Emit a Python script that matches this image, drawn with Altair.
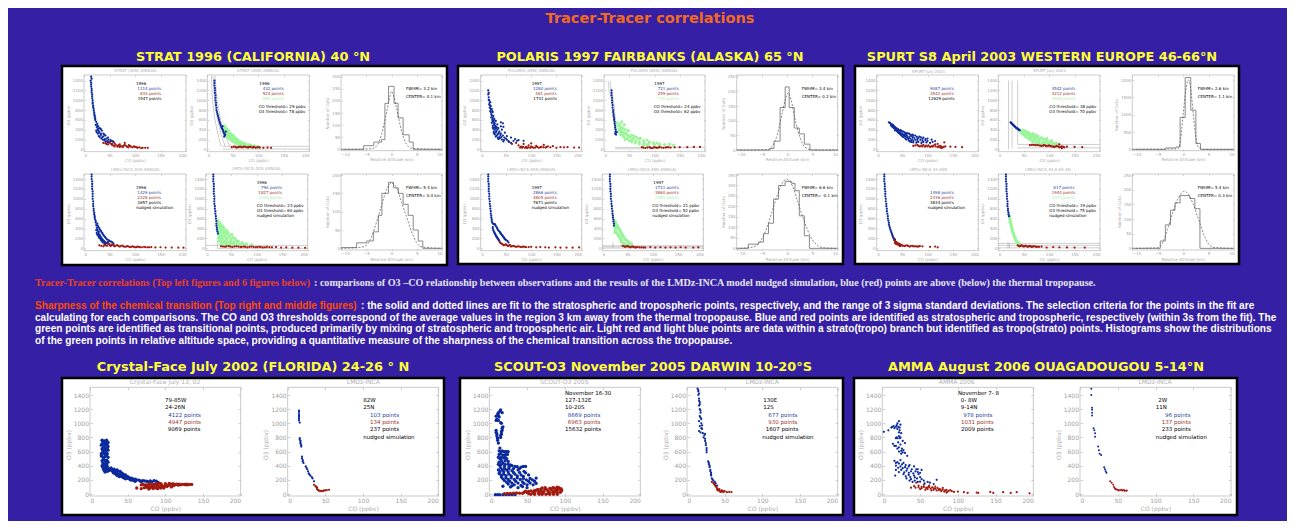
import altair as alt

W, H = 1279, 513
BG = "#3520A5"
BLUE, RED, GREEN = "#0B2A9C", "#A3190F", "#98F598"
TBLUE, TRED, TGREEN = "#2B3F9E", "#A2302A", "#A8EFA8"
GREY = "#B4B4B4"

# ---------- scatter values (CO ppbv, O3 ppbv) ----------
G1A_B = [(14,1480),(13,1400),(14,1320),(15,1240),(15,1160),(16,1080),(17,1000),(17,930),(18,860),(19,790),(20,720),(21,660),(22,600),(24,560),(23,500),(26,520),(25,450),(28,470),(27,400),(31,430),(24,380),(30,340),(35,380),(27,320),(33,290),(38,320),(29,270),(36,250),(42,280),(34,220),(41,210),(47,240),(40,180),(46,170),(52,190),(50,150),(56,165),
         (15,1440),(14,1360),(14,1280),(15,1200),(16,1120),(16,1040),(17,960),(18,890),(19,825),(20,755),(21,690),(22,630),(26,480),(28,420),(33,410),(29,370),(25,350),(33,320),(40,300),(31,250),(38,265),(44,220),(37,200),(48,200),(43,160),(53,170),(58,150),(47,140)]
G1A_R = [(38,130),(44,110),(50,140),(55,90),(60,120),(65,70),(70,100),(75,60),(80,90),(85,50),(90,70),(95,40),(100,50),(105,30),(112,25),(120,30),(60,60),(70,50),(80,130),
         (42,125),(47,100),(52,115),(58,75),(62,95),(68,85),(72,65),(78,75),(83,65),(88,85),(92,55),(98,60),(103,45),(108,40),(115,30),(125,30),(55,110),(66,55),(76,45),(87,40)]
G1B_B = [(14,1400),(14,1300),(15,1200),(16,1100),(16,1000),(17,900),(18,800),(20,720),(22,640),(24,560),(26,500),(28,440),(30,400),(32,340),(35,300),(33,260),(36,360),(30,470),
         (14,1350),(15,1250),(15,1150),(16,1050),(17,950),(18,850),(19,760),(21,680),(23,600),(25,530),(27,470),(29,420),(31,370),(33,320),(34,280)]
G1B_G = [(33,480),(36,430),(32,400),(40,390),(38,340),(44,330),(36,300),(42,290),(50,280),(40,250),(48,240),(56,220),(45,200),(53,190),(62,170),(50,160),(60,140),(70,130),(58,110),(68,100),(80,95),(75,75),(90,70),(100,55),
         (35,460),(38,410),(36,370),(42,360),(40,320),(47,310),(39,275),(45,265),(53,260),(43,225),(51,215),(59,200),(48,180),(57,165),(66,150),(55,130),(64,120),(74,115),(63,95),(72,85),(85,85),(82,70),(95,60)]
G1B_R = [(48,45),(55,50),(60,40),(65,55),(70,45),(75,50),(80,35),(85,50),(90,40),(95,30),(100,45),(110,30),(118,35),(125,30),
         (52,55),(57,35),(62,50),(67,40),(72,55),(78,40),(82,50),(88,35),(92,50),(98,40),(103,35)]
G1D_B = [(15,1490),(15,1400),(16,1300),(16,1200),(17,1100),(17,1000),(18,900),(19,800),(20,720),(21,650),(22,580),(23,520),(24,470),(26,500),(25,420),(28,430),(24,370),(27,350),(31,380),(25,310),(29,290),(34,330),(27,260),(32,240),(37,280),(30,210),(35,190),(41,230),(33,170),(39,150),(45,180),(37,120),(44,110),(50,150),(42,90),(50,80),(56,120),(58,90),
         (15,1450),(16,1350),(16,1250),(17,1150),(17,1050),(18,950),(18,850),(19,760),(20,685),(21,615),(23,550),(27,460),(26,385),(30,410),(29,330),(33,360),(26,285),(31,265),(36,305),(29,235),(34,215),(39,255),(32,195),(37,170),(43,205),(35,145),(41,130),(48,165),(47,125),(40,105),(53,135),(47,95)]
G1D_R = [(30,60),(38,40),(42,60),(48,100),(52,45),(55,75),(60,40),(65,65),(70,35),(75,55),(80,30),(85,45),(90,25),(95,40),(100,20),(105,35),(110,20),(118,30),(125,20),(132,25),(140,18),(150,22),(160,15),(172,15),(185,12),(195,12),
         (34,50),(40,70),(45,50),(50,65),(54,60),(58,55),(62,50),(67,50),(72,45),(77,40),(83,35),(88,35),(93,30),(98,30),(103,25),(108,28),(114,22),(121,22),(128,22)]
G1E_B = [(15,1490),(15,1400),(16,1300),(16,1200),(16,1100),(17,1000),(17,900),(18,800),(19,700),(20,600),(21,500),(22,420),(23,340),(24,300),
         (15,1450),(15,1350),(16,1250),(16,1150),(17,1050),(17,950),(18,850),(19,750),(20,650),(21,550),(21,460),(22,380)]
G1E_G = [(22,570),(24,550),(25,480),(30,480),(24,420),(30,410),(36,400),(25,350),(32,340),(38,330),(44,320),(25,280),(32,270),(40,270),(47,250),(25,210),(33,200),(42,200),(50,190),(58,190),(26,150),(35,130),(45,130),(55,130),(64,140),(30,90),(42,85),(55,85),(68,90),(80,90),
         (27,515),(28,445),(34,440),(28,380),(34,370),(41,365),(28,310),(36,305),(43,295),(51,285),(29,240),(37,235),(46,230),(54,220),(30,175),(39,165),(49,160),(60,160),(31,120),(40,110),(50,105),(61,110),(72,115),(36,70),(48,65),(62,70),(75,75),(90,75)]
G1E_R = [(30,40),(38,30),(45,45),(52,25),(60,40),(68,25),(75,35),(82,20),(90,35),(98,22),(105,30),(112,18),(120,28),(130,20),(138,25),(148,15),(158,18),(170,12),(182,12),(195,10),
         (34,35),(41,40),(48,35),(56,35),(64,35),(71,30),(78,28),(86,28),(94,28),(101,25),(108,25),(116,22),(125,24)]

G2A_B = [(15,1200),(15,1120),(16,1060),(17,1000),(17,920),(19,960),(18,850),(20,880),(19,780),(22,820),(21,720),(24,760),(21,650),(25,680),(23,600),(27,620),(22,540),(26,550),(30,580),(24,480),(28,490),(33,510),(40,550),(44,530),(40,470),(45,460),(42,400),(25,420),(30,430),(35,430),(26,360),(31,370),(37,360),(28,300),(34,310),(40,320),(48,340),(30,260),(37,250),(44,280),(52,270),(35,210),(42,200),(50,220),(60,240),(68,210),(45,160),(55,170),(65,170),(75,190),(85,175),(60,130),
         (16,1150),(16,1010),(18,960),(18,900),(20,820),(20,760),(23,780),(22,690),(24,640),(26,590),(24,570),(28,530),(26,510),(30,470),(27,450),(32,450),(24,440),(28,400),(33,400),(30,340),(36,335),(26,330),(32,280),(39,290),(34,235),(41,250),(47,240),(38,225),(46,190),(52,195),(56,150),(72,175)]
G2A_R = [(62,110),(70,130),(75,80),(80,55),(82,30),(85,110),(90,50),(92,25),(95,80),(100,120),(102,45),(105,30),(110,70),(115,30),(120,50),(125,90),(128,35),(133,60),(138,40),(143,65),(150,30),(158,45),(165,40),(172,45),(185,35),(195,35),
         (78,35),(84,50),(88,30),(94,40),(98,30),(100,55),(108,35),(112,50),(118,40),(124,40),(130,45)]
G2B_B = [(15,1200),(15,1100),(16,1000),(17,900),(18,800),(19,720),(20,640),(21,560),(22,480),(23,400),(25,350),(24,300),
         (15,1150),(16,1050),(16,950),(17,850),(18,760),(19,680),(20,600),(21,520),(22,440),(23,360),(22,320)]
G2B_G = [(26,540),(35,560),(28,480),(40,500),(30,420),(38,430),(28,360),(37,350),(48,380),(33,300),(45,310),(55,290),(40,250),(52,250),(65,240),(42,200),(55,190),(70,210),(85,190),(55,150),(70,150),(90,150),(105,130),(70,110),(88,105),(110,105),(130,105),(85,80),(110,75),(138,85),
         (31,510),(34,450),(33,390),(42,400),(34,340),(42,330),(38,280),(48,280),(60,265),(46,225),(58,220),(72,225),(50,180),(63,170),(78,175),(62,130),(80,130),(98,135),(78,95),(100,90),(120,95)]
G2B_R = [(75,45),(82,25),(90,45),(95,22),(100,40),(105,30),(110,45),(118,30),(125,45),(132,35),(140,40),(150,45),(165,45),(178,50),(190,50),
         (78,35),(86,35),(92,30),(98,35),(103,35),(108,35),(114,35),(122,35),(128,40)]
G2D_B = [(15,1490),(15,1400),(16,1300),(16,1200),(17,1100),(17,1000),(18,900),(19,800),(20,700),(21,620),(22,550),(24,500),(28,490),(30,450),(24,430),(33,400),(25,370),(36,350),(27,320),(39,310),(29,280),(41,280),(31,240),(44,240),(33,210),(47,200),(35,180),(50,170),(37,150),(53,150),(55,120),
         (15,1450),(15,1350),(16,1250),(16,1150),(17,1050),(18,950),(19,850),(20,750),(21,660),(22,585),(23,520),(26,490),(29,470),(32,425),(34,375),(38,330),(40,295),(43,260),(46,220),(48,185),(24,400),(26,345),(28,300),(30,260),(32,225),(34,195),(36,165)]
G2D_R = [(38,120),(42,90),(46,60),(50,80),(54,45),(58,70),(60,35),(65,50),(70,30),(75,40),(80,25),(85,35),(90,22),(100,30),(110,20),(118,25),(128,20),(135,15),(148,20),(158,12),(170,15),(182,12),(195,18),
         (40,105),(44,75),(48,70),(52,60),(56,55),(62,45),(67,40),(72,35),(78,32),(83,30),(88,28),(95,25)]
G2E_B = [(15,1490),(15,1400),(16,1300),(16,1200),(17,1100),(17,1000),(18,900),(19,800),(20,700),(21,620),(22,540),(23,460),
         (15,1450),(15,1350),(16,1250),(16,1150),(17,1050),(18,950),(19,850),(20,750),(21,660),(22,580),(23,500)]
G2E_G = [(24,560),(28,480),(25,500),(32,420),(24,440),(34,380),(25,380),(36,340),(25,320),(38,300),(40,260),(30,290),(42,230),(33,240),(44,190),(36,190),(48,160),(38,130),(52,120),(44,90),(58,90),(50,60),
         (26,530),(30,450),(27,470),(33,400),(26,410),(35,360),(27,350),(37,320),(28,310),(39,280),(41,245),(32,265),(43,210),(35,215),(46,175),(37,160),(50,140),(41,110),(55,105),(47,75),(54,70)]
G2E_R = [(40,50),(45,30),(50,45),(55,20),(60,35),(65,15),(70,25),(78,18),(85,15),(95,25),(105,15),(115,22),(125,15),(135,20),(145,15),(155,22),(165,15),(180,15),(190,20),
         (43,40),(48,38),(52,35),(57,30),(62,28),(67,22),(74,20),(82,18)]

G3A_B = [(24,550),(27,530),(30,510),(28,490),(33,480),(31,460),(36,450),(34,430),(39,430),(37,400),(42,410),(47,390),(40,370),(45,360),(52,360),(58,330),(44,330),(50,320),(56,310),(64,320),(70,300),(48,290),(54,280),(60,270),(68,270),(76,280),(84,260),(52,250),(60,240),(66,220),(74,230),(82,230),(92,240),(100,220),(58,200),(68,180),(76,195),(86,195),(96,190),(108,200),(65,160),(72,140),(82,150),(92,150),(105,130),(115,170),
         (26,540),(29,500),(32,500),(30,475),(35,465),(33,445),(38,415),(36,385),(41,390),(44,385),(49,375),(42,345),(47,340),(55,345),(61,325),(46,310),(52,300),(58,290),(66,295),(72,285),(50,270),(56,260),(64,250),(71,250),(79,255),(87,245),(56,225),(62,215),(70,205),(80,210),(90,215),(96,210),(63,185),(72,170),(80,170),(90,170),(100,170),(68,150),(78,135),(88,130),(98,140),(110,150)]
G3A_R = [(72,70),(80,90),(85,60),(92,90),(95,55),(102,80),(105,50),(112,75),(115,100),(120,45),(125,70),(130,40),(135,60),(128,25),(120,110),(133,140),(145,55),(155,50),(168,45),
         (76,80),(82,70),(88,75),(90,60),(97,75),(100,60),(108,65),(110,55),(116,60),(122,60),(127,55),(132,50),(125,35)]
G3B_B = [(24,550),(26,530),(28,510),(30,490),(32,470),(34,450),(36,430),(38,420),(40,400),(42,390),(25,540),(27,520),(29,500),(31,480),(33,460),(35,440),(37,425),(39,410),(41,395)]
G3B_G = [(42,380),(50,390),(45,350),(55,360),(48,320),(60,330),(68,320),(50,290),(58,290),(68,280),(78,270),(55,250),(65,240),(75,240),(85,240),(95,220),(62,200),(72,190),(82,200),(95,180),(105,180),(68,150),(80,150),(92,140),(105,140),(115,120),(80,110),(100,100),(118,100),
         (46,375),(52,345),(47,335),(58,345),(54,305),(64,310),(73,300),(53,270),(62,265),(72,260),(60,225),(70,220),(80,215),(90,210),(67,175),(77,165),(88,170),(100,160),(74,130),(86,125),(98,120),(110,120),(90,100),(108,95)]
G3B_R = [(62,85),(70,90),(78,85),(85,70),(90,85),(95,65),(100,80),(105,60),(110,50),(115,70),(120,40),(125,60),(130,40),(135,55),(125,20),(120,100),(150,50),(165,45),
         (66,90),(74,85),(82,75),(88,75),(93,75),(98,70),(103,65),(108,55),(113,60),(118,55),(123,50),(128,50)]
G3D_B = [(15,1490),(15,1400),(16,1300),(16,1200),(17,1100),(18,1000),(19,900),(20,800),(21,700),(22,600),(24,520),(25,450),(27,380),(29,320),(31,260),(33,210),(36,170),
         (15,1450),(15,1350),(16,1250),(17,1150),(17,1050),(18,950),(19,850),(20,750),(22,650),(23,560),(24,485),(26,415),(28,350),(30,290),(32,235),(35,190)]
G3D_R = [(34,170),(38,130),(36,110),(42,100),(40,80),(46,85),(45,50),(50,60),(55,45),(60,60),(65,35),(70,50),(75,40),(80,35),(85,45),(90,40),(105,30),(115,35),(120,20),
         (36,150),(40,115),(38,90),(44,90),(43,65),(48,70),(47,45),(52,50),(57,55),(62,45),(67,45),(72,40),(78,40),(83,38)]
G3E_B = [(15,1490),(15,1400),(16,1300),(16,1200),(17,1100),(17,1000),(18,900),(19,800),(20,720),(21,650),(15,1450),(15,1350),(16,1250),(16,1150),(17,1050),(18,950),(18,850),(19,760),(20,685)]
G3E_G = [(22,650),(23,580),(24,520),(25,460),(27,400),(28,340),(30,300),(31,250),(33,210),(34,170),(37,130),(40,100),(42,80),(22,615),(23,550),(25,490),(26,430),(27,370),(29,320),(30,275),(32,230),(34,190),(35,150),(38,115),(41,90)]
G3E_R = [(38,60),(42,40),(46,60),(50,35),(54,55),(58,30),(62,50),(66,28),(70,45),(75,30),(80,30),(85,35),(95,15),(108,25),(120,20),(135,18),(150,15),(170,15),
         (40,50),(44,50),(48,48),(52,45),(56,42),(60,40),(64,38),(68,36),(73,36),(78,32)]

G4A_B = [(16,760),(19,750),(22,760),(24,730),(16,710),(20,700),(23,690),(18,660),(22,650),(17,620),(21,610),(24,620),(15,570),(19,570),(23,570),(16,530),(20,530),(24,520),(18,490),(22,480),(17,440),(21,440),(24,450),(16,400),(20,400),(23,390),(18,350),(22,340),(20,310),(25,330),(28,370),(32,350),(36,340),(30,320),(35,310),(40,320),(33,290),(38,280),(43,290),(36,260),(42,250),(47,270),(45,230),(50,245),(50,220),(55,225),(60,210),(58,190),(65,195),(70,190),(75,180),(80,185),(85,190),(68,175),(82,170),
         (17,745),(21,735),(18,725),(22,715),(15,690),(19,680),(24,670),(16,640),(20,630),(23,640),(17,595),(21,590),(15,540),(22,550),(18,510),(16,470),(20,470),(23,465),(19,420),(22,420),(17,380),(21,370),(24,360),(19,330),(23,320),(26,355),(30,345),(34,330),(28,340),(32,320),(37,325),(31,300),(36,295),(41,305),(35,275),(40,265),(45,275),(39,245),(44,235),(48,250),(47,215),(52,230),(53,205),(57,215),(62,200),(60,180),(67,185),(72,185),(77,175),(55,195),(50,235),(42,270),(88,180),(90,165)]
G4A_R = [(62,85),(68,75),(72,90),(78,70),(70,135),(75,125),(80,145),(85,120),(85,95),(90,75),(88,140),(95,130),(92,100),(98,85),(100,115),(100,145),(105,130),(108,100),(112,125),(115,140),(120,130),(125,135),(130,130),(135,135),(78,105),(92,155),(105,150),
         (73,130),(78,135),(83,130),(87,128),(90,120),(94,145),(96,110),(90,100),(82,110),(80,85),(84,78),(88,85),(94,85),(97,100),(102,105),(104,120),(107,140),(110,115),(113,135),(117,125),(118,140),(122,135),(127,130),(128,140),(132,135),(75,95),(100,130),(95,115),(85,140),(110,145),(68,130)]
G4B_B = [(15,1180),(15,1130),(15,1090),(15,1040),(16,1010),(16,790),(17,750),(17,710),(18,670),(19,530),(20,480),(21,440),(24,390),(26,350),(28,290),(30,260),(33,220),(35,180),(15,1160),(15,1110),(15,1065),(16,770),(17,730),(18,690),(19,505),(20,460),(25,370),(27,320),(29,275),(32,240)]
G4B_R = [(35,130),(37,110),(39,90),(40,60),(42,45),(45,40),(48,50),(52,55),(55,60),(38,100),(39,70),(41,50),(44,45),(47,42),(50,50)]
G5A_B = [(9,1100),(11,1130),(14,1170),(15,1190),(10,1060),(13,1090),(15,1010),(16,1000),(9,870),(10,820),(11,760),(12,720),(18,950),(17,900),(16,850),(15,800),(13,610),(17,610),(21,600),(25,600),(13,560),(18,550),(24,560),(14,500),(19,510),(23,500),(25,460),(13,450),(18,440),(28,410),(14,400),(20,390),(26,380),(34,390),(42,380),(48,390),(12,340),(17,340),(23,340),(30,330),(38,340),(46,320),(13,290),(19,280),(26,280),(34,280),(42,270),(52,270),(16,240),(22,230),(29,230),(37,230),(45,220),(54,220),(62,225),(20,190),(27,180),(35,180),(44,170),(52,180),(60,180),(25,140),(33,130),(42,120),(50,130),(58,130),(18,110),(28,100),(38,90),(50,90),(8,-10),(14,-10),(22,-10),(30,-10),
         (15,600),(19,600),(23,600),(15,570),(21,555),(12,520),(16,520),(21,520),(16,470),(21,470),(12,420),(16,420),(21,420),(25,420),(30,400),(37,385),(45,390),(15,370),(20,360),(26,355),(32,360),(40,360),(14,315),(19,315),(25,310),(32,305),(40,305),(48,300),(16,265),(22,260),(29,255),(37,255),(45,250),(18,215),(25,205),(33,205),(41,205),(49,200),(57,200),(23,165),(30,155),(38,155),(46,150),(54,155),(62,150),(30,115),(44,105),(12,1150),(12,1110),(17,1150),(9,1040),(12,1040),(9,900),(10,850),(11,790),(17,930),(16,880),(15,830),(14,650),(11,-10),(18,-10),(26,-10),(34,-10)]
G5A_R = [(20,5),(28,10),(36,15),(44,10),(50,20),(55,-5),(60,10),(48,40),(55,45),(62,50),(66,30),(70,10),(72,45),(68,70),(76,60),(80,20),(80,80),(85,40),(88,70),(90,15),(92,90),(95,40),(95,75),(75,-5),(85,-5),(60,-5),(70,85),
         (24,8),(32,12),(40,12),(46,25),(52,35),(58,30),(60,50),(64,65),(65,20),(68,40),(72,25),(74,75),(78,40),(78,10),(82,60),(84,20),(86,85),(88,30),(90,50),(92,70),(94,25),(96,55),(66,-5),(70,-5),(80,-5),(90,-5),(52,5),(58,20),(74,90),(84,90),(90,95)]
G5B_B = [(14,1490),(15,1450),(15,1400),(16,1350),(17,1300),(16,1250),(17,1200),(18,1150),(17,1100),(19,1060),(16,1030),(19,1000),(17,960),(20,920),(16,890),(21,860),(22,800),(24,850),(24,780),(25,720),(26,650),(26,590),(28,460),(29,420),(30,380),(31,340),(32,300),(32,260),(33,220),(35,190),(38,150),(40,120),
         (15,1470),(16,1420),(16,1320),(17,1270),(18,1180),(18,1080),(20,970),(19,930),(18,870),(23,830),(24,750),(25,690),(26,620),(29,440),(30,400),(31,320),(32,280),(34,205),(37,170)]
G5B_R = [(33,170),(36,140),(38,110),(40,80),(41,50),(43,70),(44,35),(46,50),(48,30),(50,40),(53,25),(56,30),(59,28),(35,155),(37,125),(39,95),(40,65),(42,60),(43,45),(45,30),(47,45),(49,35)]
G6A_B = [(2,880),(8,900),(15,960),(18,950),(20,1000),(22,1030),(24,980),(12,940),(23,900),(25,860),(22,820),(24,800),(18,790),(20,790),(27,750),(30,720),(14,710),(18,680),(22,660),(26,640),(22,600),(28,620),(30,580),(25,570),(33,540),(16,470),(20,450),(24,480),(28,440),(36,410),(18,400),(24,390),(30,380),(35,390),(42,390),(47,350),(52,340),(18,340),(25,340),(32,330),(38,320),(44,320),(50,300),(17,260),(28,280),(35,270),(42,260),(48,280),(32,220),(38,210),(46,220),(52,210),(40,170),(47,170),(55,190),(63,160),(68,140),(72,200),(56,150),
         (13,950),(16,930),(19,975),(21,950),(23,940),(20,920),(22,870),(19,800),(23,790),(21,730),(24,700),(16,680),(20,640),(25,610),(27,590),(18,440),(22,430),(26,420),(31,410),(21,370),(27,365),(33,360),(39,350),(45,350),(22,310),(29,305),(35,300),(41,290),(47,310),(31,250),(37,240),(43,235),(50,240),(36,190),(43,190),(50,175),(60,170)]
G6A_R = [(38,90),(42,110),(45,160),(48,120),(50,70),(52,100),(55,130),(57,60),(60,95),(62,120),(65,50),(68,80),(70,105),(72,50),(75,70),(78,40),(80,85),(83,50),(86,30),(90,55),(95,30),(100,35),(108,25),(113,15),(125,20),(127,15),(143,30),(147,15),(160,25),(170,15),(178,25),(195,10),(85,20),(92,40),
         (44,90),(48,95),(52,80),(55,100),(58,85),(60,70),(62,100),(64,75),(66,95),(68,60),(70,75),(73,85),(75,55),(77,65),(80,60),(82,35),(85,60),(88,45)]
G6B_B = [(15,1490),(15,1400),(16,1220),(16,1190),(16,1150),(16,1110),(18,930),(19,900),(20,860),(20,810),(24,670),(25,620),(26,570),(28,550),(32,380),(33,350),(34,320),(35,300)]
G6B_R = [(40,180),(42,160),(44,130),(45,100),(46,80),(48,65),(50,60),(53,55),(56,50),(59,45),(62,50),(47,70),(51,50),(55,60),(58,55),(61,45)]

# ---------- thin grey fit and threshold lines ----------
G1B_L = [[(11,1500),(14,1000),(20,600),(27,300),(35,60)], [(8,1500),(10,1000),(15,600),(21,300),(27,60)], [(15,1500),(19,1000),(26,600),(34,300),(44,60)], [(30,62),(200,62)], [(30,5),(200,5)]]
G1E_L = [[(23,0),(23,160)], [(0,60),(200,60)], [(23,0),(200,0)]]
G2B_L = [[(8,1400),(10,1200),(16,1000)], [(12,1400),(14,1200),(20,900),(25,300)], [(22,10),(80,10)], [(22,40),(200,40)]]
G2E_L = [[(21,0),(21,130)], [(0,52),(200,52)], [(0,5),(200,5)], [(0,30),(200,30)]]
G3B_L = [[(20,0),(20,1400)], [(27,30),(27,1400)], [(38,100),(38,1400)], [(38,100),(200,100)], [(38,30),(200,30)]]
G3E_L = [[(19,0),(19,130)], [(22,0),(22,100)], [(0,100),(200,100)], [(0,60),(200,60)], [(0,10),(200,10)]]

# ---------- histograms: (left bin edge, count) and dashed fit (x, y) ----------
H1C = [(-10,0),(-5.5,15),(-3.5,30),(-2,40),(-1.3,190),(-0.6,260),(0.5,190),(1.3,130),(2.3,60),(3.5,30),(4.3,0),(10,0)]
F1C = [(-10,0),(-4,2),(-3,12),(-2,60),(-1,150),(-0.3,220),(0,240),(0.5,215),(1,170),(2,75),(3,20),(4,4),(10,0)]
H1F = [(-10,2),(-6.9,15),(-4.9,20),(-3.6,45),(-2.6,90),(-1.9,150),(-0.6,180),(0.4,165),(1.35,150),(2.3,120),(3.3,90),(4.3,50),(5.3,20),(6.2,0),(10,0)]
F1F = [(-10,0),(-6,3),(-5,8),(-4,30),(-3,70),(-2,115),(-1,160),(0,178),(1,165),(2,125),(3,85),(4,45),(5,15),(6,4),(10,0)]
H2C = [(-10,0),(-3.4,5),(-2.6,30),(-1.4,145),(-0.4,215),(0.4,145),(1.4,75),(2.4,55),(3.4,20),(4.5,0),(10,0)]
F2C = [(-10,0),(-4,1),(-3,12),(-2,50),(-1,125),(-0.3,175),(0.2,195),(0.8,170),(1.5,110),(2.5,45),(3.5,10),(5,0),(10,0)]
H2F = [(-10,0),(-7.7,20),(-5.7,30),(-4.7,70),(-3.7,120),(-2.7,235),(-1.7,300),(-0.4,320),(0.9,310),(1.55,275),(2.4,155),(3.4,60),(4.4,0),(10,0)]
F2F = [(-10,0),(-7,5),(-6,15),(-5,45),(-4,100),(-3,175),(-2,250),(-1,310),(-0.2,330),(1,300),(2,230),(3,155),(4,90),(5,40),(6,15),(7,3),(10,0)]
H3C = [(-10,0),(-3.4,40),(-1.4,70),(-0.6,920),(0.4,2070),(1.5,1130),(2.5,170),(3.4,0),(10,0)]
F3C = [(-10,0),(-1,10),(-0.5,300),(0,1000),(0.5,1700),(1.1,2000),(1.6,1600),(2,1000),(2.5,350),(3,60),(4,0),(10,0)]
H3F = [(-10,0),(-4.5,25),(-3.5,80),(-2.5,130),(-1.6,155),(-0.6,180),(1.3,170),(2.3,135),(3.3,0),(10,0)]
F3F = [(-10,0),(-5,2),(-4,20),(-3,70),(-2,125),(-1,170),(0.3,195),(1,185),(2,150),(3,100),(4,50),(5,15),(6,3),(10,0)]

O3_TICKS = [0, 200, 400, 600, 800, 1000, 1200, 1400]
CO_TICKS = [0, 50, 100, 150, 200]
ALT_TICKS = [-10, -5, 0, 5, 10]
ORIGIN = alt.Data(values=[{"x": 0, "y": 0}])
ONE = alt.Data(values=[{"k": 1}])


def to_rows(pairs):
    return alt.Data(values=[{"x": a, "y": b} for a, b in pairs])


def note(txt, x, y, color="black", size=4.0, align="left", font="DejaVu Sans", weight="normal", angle=0):
    return alt.Chart(ONE).mark_text(
        align=align, baseline="middle", font=font, fontWeight=weight, fontSize=size, angle=angle, color=color
    ).encode(x=alt.value(x), y=alt.value(y), text=alt.value(txt))


def box(x0, y0, x1, y1, fill=None, stroke=None, sw=1.0):
    kw = {"fillOpacity": 0} if fill is None else {"fill": fill}
    if stroke:
        kw.update(stroke=stroke, strokeWidth=sw)
    return alt.Chart(ONE).mark_rect(**kw).encode(
        x=alt.value(x0), x2=alt.value(x1), y=alt.value(y0), y2=alt.value(y1)
    )


def panel(ox, oy, fx, fy, yt, xdom, xticks, ydom, yticks, xtitle, ytitle, series, fsize, tick):
    """Frame fx, fy in 3x crop coordinates relative to ox, oy; yt = (crop y of 0, crop y of ydom[1])."""
    X = lambda z: ox + z / 3 - 8
    Y = lambda z: oy + z / 3 - 8
    x0, x1, y0, y1 = X(fx[0]), X(fx[1]), Y(fy[0]), Y(fy[1])
    xs = alt.Scale(domain=xdom, range=[x0, x1], nice=False, zero=False)
    ys = alt.Scale(domain=ydom, range=[Y(yt[0]), Y(yt[1])], nice=False, zero=False)
    common = dict(domain=False, grid=False, labelOverlap=False, zindex=1)

    def enc(ax, ay):
        return dict(x=alt.X("x:Q", scale=xs, axis=ax), y=alt.Y("y:Q", scale=ys, axis=ay))

    text_axis = dict(ticks=False, format="d", labelFontSize=fsize, labelColor="#A0A0A0", labelPadding=1.5, titleFontSize=fsize,
                     titleColor="#A8A8A8", titleFontWeight="normal", labelFont="DejaVu Sans", titleFont="DejaVu Sans", **common)
    labels = alt.Chart(ORIGIN).mark_point(opacity=0).encode(**enc(
        alt.Axis(orient="bottom", offset=y1 - H, values=xticks, title=xtitle, titlePadding=1.5, **text_axis),
        alt.Axis(orient="left", offset=-x0, values=yticks, title=ytitle, titlePadding=2, **text_axis)))
    tk = dict(labels=False, title=None, tickSize=tick, tickColor=GREY, tickWidth=0.6, **common)
    ticks_a = alt.Chart(ORIGIN).mark_point(opacity=0).encode(**enc(
        alt.Axis(orient="top", offset=-y1, values=xticks, **tk),
        alt.Axis(orient="right", offset=x0 - W, values=yticks, **tk)))
    ticks_b = alt.Chart(ORIGIN).mark_point(opacity=0).encode(**enc(
        alt.Axis(orient="bottom", offset=y0 - H, values=xticks, **tk),
        alt.Axis(orient="left", offset=-x1, values=yticks, **tk)))
    frame = box(x0, y0, x1, y1, stroke=GREY, sw=0.7)
    plain = enc(None, None)
    layers = [frame, labels, ticks_a, ticks_b]
    for kind, rows, color, val in series:
        c = alt.Chart(to_rows(rows))
        if kind == "pts":
            layers.append(c.mark_circle(size=val, color=color, opacity=1).encode(**plain))
        elif kind == "thin":
            layers.append(c.mark_line(color=color, strokeWidth=val).encode(**plain))
        elif kind == "step":
            layers.append(c.mark_line(color=color, strokeWidth=val, interpolate="step-after").encode(**plain))
        elif kind == "dash":
            layers.append(c.mark_line(color=color, strokeWidth=val, strokeDash=[2, 1.5], interpolate="monotone").encode(**plain))
    return alt.layer(*layers).resolve_axis(x="independent", y="independent")


def sc(ox, oy, fx, top, blue, red, green=None, lines=()):
    fy, yt = ((45, 275), (268, 62)) if top == "u" else ((342, 572), (565, 357))
    s = [("thin", ln, "#9C9C9C", 0.5) for ln in lines]
    if green:
        s.append(("pts", green, GREEN, 10))
    s += [("pts", blue, BLUE, 5), ("pts", red, RED, 5)]
    return panel(ox, oy, fx, fy, yt, [0, 200], CO_TICKS, [0, 1400], O3_TICKS, "CO (ppbv)", "O3 (ppbv)", s, 4.0, 1.5)


def sc_big(ox, oy, fx, blue, red, size):
    s = [("pts", blue, BLUE, size), ("pts", red, RED, size)]
    return panel(ox, oy, fx, (52, 378), (372, 75), [0, 200], CO_TICKS, [0, 1400], O3_TICKS, "CO (ppbv)", "O3 (ppbv)", s, 6.0, 2.5)


def hist(ox, oy, fx, fy, yt, ymax, yticks, bars, fit):
    s = [("step", bars, "#8A8A8A", 1.0), ("dash", fit, "#555555", 0.7)]
    return panel(ox, oy, fx, fy, yt, [-10, 10], ALT_TICKS, [0, ymax], yticks, "Relative Altitude (km)", "Number of Data", s, 4.0, 1.5)


def notes(ox, oy, items, size=4.0):
    return [note(txt, ox + zx / 3 - 8, oy + zy / 3 - 8, col, size) for txt, zx, zy, col in items]


def heads(ox, oy, items, size=4.0):
    return [note(t, ox + zx / 3 - 8, oy + zy / 3 - 8, "#B0B0B0", size, align="center") for t, zx, zy in items]


K, B, R, G = "black", TBLUE, TRED, TGREEN
layers = []

# slide title and white boards
layers.append(note("Tracer-Tracer correlations", 642, 11, "#F26A1E", 14.5, "center", weight="bold"))
for x0, y0, x1, y1 in [(62, 66, 447, 265), (458, 66, 843, 264), (855, 66, 1239, 264), (62, 378, 444, 515), (460, 378, 843, 515), (854, 378, 1237, 515)]:
    layers.append(box(x0 - 8, y0 - 8, x1 - 8, y1 - 8, fill="white", stroke="black", sw=2.5))

YEL = "#FFFF33"
for txt, cx, cy in [("STRAT 1996 (CALIFORNIA) 40 °N", 253, 57), ("POLARIS 1997 FAIRBANKS (ALASKA) 65 °N", 650, 57), ("SPURT S8 April 2003 WESTERN EUROPE 46-66°N", 1042, 57),
                    ("Crystal-Face July 2002 (FLORIDA) 24-26 ° N", 253, 367), ("SCOUT-O3 November 2005 DARWIN 10-20°S", 653, 367), ("AMMA August 2006 OUAGADOUGOU 5-14°N", 1046, 367)]:
    layers.append(note(txt, cx - 8, cy - 8, YEL, 12.9, "center", weight="bold"))

# paragraphs
SANS, SERIF = "Liberation Sans", "Liberation Serif"
layers += [
    note("Tracer-Tracer correlations (Top left figures and 6 figures below)", 27, 275, "#E8431E", 10.1, font=SERIF, weight="bold"),
    note(": comparisons of O3 –CO relationship between observations and the results of the LMDz-INCA model nudged simulation,  blue (red) points are above (below) the thermal tropopause.", 306, 275, "#E6E6F0", 10.1, font=SERIF, weight="bold"),
    note("Sharpness of the chemical transition (Top right and middle figures)", 27, 297.7, "#FF4A00", 10.1, font=SANS, weight="bold"),
    note(": the solid and dotted lines are fit to the stratospheric and tropospheric points, respectively, and the range of 3 sigma standard deviations. The selection criteria for the points in the fit are", 353, 297.7, "white", 10.1, font=SANS, weight="bold"),
    note("calculating for each comparisons. The CO and O3 thresholds correspond of the average values in the region 3 km away from the thermal tropopause. Blue and red points are identified as stratospheric and tropospheric, respectively (within 3s from the fit). The", 27, 309.7, "white", 10.1, font=SANS, weight="bold"),
    note("green points are identified as transitional points, produced primarily by mixing of stratospheric and tropospheric air. Light red and light blue points are data within a strato(tropo) branch but identified as tropo(strato) points. Histograms show the distributions", 27, 321, "white", 10.1, font=SANS, weight="bold"),
    note("of the green points in relative altitude space, providing a quantitative measure of the sharpness of the chemical transition across the tropopause.", 27, 333, "white", 10.1, font=SANS, weight="bold"),
]

# group 1
o = (60, 60)
layers += [
    sc(*o, (72, 378), "u", G1A_B, G1A_R), sc(*o, (442, 748), "u", G1B_B, G1B_R, G1B_G, G1B_L),
    hist(*o, (843, 1146), (45, 272), (268, 50), 300, [0, 50, 100, 150, 200, 250, 300], H1C, F1C),
    sc(*o, (72, 378), "l", G1D_B, G1D_R), sc(*o, (437, 743), "l", G1E_B, G1E_R, G1E_G, G1E_L),
    hist(*o, (843, 1146), (342, 570), (565, 345), 200, [0, 50, 100, 150, 200], H1F, F1F),
]
layers += heads(*o, [("STRAT (40N) ANNUAL", 227, 33), ("STRAT (40N) ANNUAL", 595, 33), ("LMDz-INCA 40N ANNUAL", 227, 331), ("LMDz-INCA 40N ANNUAL", 590, 328)])
layers += notes(*o, [("1996", 228, 73, K), ("1114 points", 232, 88, B), ("833 points", 240, 103, R), ("1947 points", 233, 118, K),
                     ("1996", 598, 73, K), ("432 points", 608, 88, B), ("524 points", 608, 103, R), ("889 points", 608, 118, G), ("CO threshold= 29 ppbv", 596, 141, K), ("O3 threshold= 78 ppbv", 596, 157, K),
                     ("FWHM= 3.2 km", 1038, 88, K), ("CENTER= 0.1 km", 1038, 112, K),
                     ("1996", 228, 385, K), ("1429 points", 232, 400, B), ("2228 points", 232, 415, R), ("3657 points", 232, 430, K), ("nudged simulation", 228, 445, K),
                     ("1996", 590, 368, K), ("790 points", 603, 383, B), ("1827 points", 595, 398, R), ("1040 points", 595, 413, G), ("CO threshold= 23 ppbv", 590, 437, K), ("O3 threshold= 60 ppbv", 590, 452, K), ("nudged simulation", 590, 467, K),
                     ("FWHM= 5.4 km", 1038, 383, K), ("CENTER= 0.4 km", 1038, 407, K)])

# group 2
o = (455, 60)
layers += [
    sc(*o, (77, 380), "u", G2A_B, G2A_R), sc(*o, (447, 750), "u", G2B_B, G2B_R, G2B_G, G2B_L),
    hist(*o, (845, 1148), (45, 272), (270, 50), 250, [0, 50, 100, 150, 200, 250], H2C, F2C),
    sc(*o, (77, 380), "l", G2D_B, G2D_R), sc(*o, (442, 745), "l", G2E_B, G2E_R, G2E_G, G2E_L),
    hist(*o, (845, 1148), (342, 570), (565, 345), 350, [0, 50, 100, 150, 200, 250, 300, 350], H2F, F2F),
]
layers += heads(*o, [("POLARIS (65N) ANNUAL", 230, 33), ("POLARIS (65N) ANNUAL", 598, 33), ("LMDz-INCA 65N ANNUAL", 230, 331), ("LMDz-INCA 65N ANNUAL", 592, 331)])
layers += notes(*o, [("1997", 230, 73, K), ("1280 points", 234, 88, B), ("461 points", 241, 103, R), ("1741 points", 235, 118, K),
                     ("1997", 598, 73, K), ("721 points", 608, 88, B), ("259 points", 608, 103, R), ("739 points", 608, 118, G), ("CO threshold= 24 ppbv", 596, 141, K), ("O3 threshold= 62 ppbv", 596, 157, K),
                     ("FWHM= 3.4 km", 1040, 88, K), ("CENTER= 0.2 km", 1040, 112, K),
                     ("1997", 230, 385, K), ("2866 points", 234, 400, B), ("4805 points", 234, 415, R), ("7671 points", 234, 430, K), ("nudged simulation", 230, 445, K),
                     ("1997", 595, 368, K), ("1731 points", 600, 383, B), ("3860 points", 600, 398, R), ("2080 points", 600, 413, G), ("CO threshold= 21 ppbv", 592, 437, K), ("O3 threshold= 52 ppbv", 592, 452, K), ("nudged simulation", 592, 467, K),
                     ("FWHM= 6.6 km", 1040, 383, K), ("CENTER= -0.1 km", 1040, 407, K)])

# group 3
o = (850, 60)
layers += [
    sc(*o, (80, 385), "u", G3A_B, G3A_R), sc(*o, (445, 750), "u", G3B_B, G3B_R, G3B_G, G3B_L),
    hist(*o, (847, 1152), (45, 272), (268, 60), 2000, [0, 500, 1000, 1500, 2000], H3C, F3C),
    sc(*o, (80, 385), "l", G3D_B, G3D_R), sc(*o, (445, 750), "l", G3E_B, G3E_R, G3E_G, G3E_L),
    hist(*o, (847, 1152), (342, 570), (565, 345), 250, [0, 50, 100, 150, 200, 250], H3F, F3F),
]
layers += heads(*o, [("SPURT July 2003", 235, 35), ("SPURT July 2003", 598, 33), ("LMDz-INCA 44-69N", 235, 331), ("LMDz-INCA 44.8-69.4N", 593, 331)])
layers += notes(*o, [("9087 points", 240, 88, B), ("3542 points", 240, 103, R), ("12629 points", 235, 118, K),
                     ("4542 points", 605, 88, B), ("3212 points", 605, 103, R), ("4646 points", 605, 118, G), ("CO threshold= 38 ppbv", 598, 141, K), ("O3 threshold= 70 ppbv", 598, 157, K),
                     ("FWHM= 2.6 km", 1043, 86, K), ("CENTER= 1.1 km", 1043, 110, K),
                     ("1498 points", 240, 400, B), ("2336 points", 240, 415, R), ("3834 points", 240, 430, K), ("nudged simulation", 233, 445, K),
                     ("817 points", 610, 383, B), ("1944 points", 605, 398, R), ("1073 points", 605, 413, G), ("CO threshold= 19 ppbv", 598, 437, K), ("O3 threshold= 75 ppbv", 598, 452, K), ("nudged simulation", 598, 467, K),
                     ("FWHM= 5.4 km", 1043, 383, K), ("CENTER= 0.3 km", 1043, 407, K)])

# bottom groups
o = (55, 370)
layers += [sc_big(*o, (105, 557), G4A_B, G4A_R, 11), sc_big(*o, (698, 1150), G4B_B, G4B_R, 5)]
layers += heads(*o, [("Crystal-Face July 13, 02", 330, 36), ("LMDz-INCA", 925, 36)], 6.0)
layers += notes(*o, [("79-85W", 330, 90, K), ("24-26N", 330, 112, K), ("4122 points", 340, 134, B), ("4947 points", 340, 156, R), ("9069 points", 338, 178, K),
                     ("82W", 925, 90, K), ("25N", 925, 112, K), ("103 points", 945, 134, B), ("134 points", 945, 156, R), ("237 points", 945, 178, K), ("nudged simulation", 925, 200, K)], 5.5)
o = (455, 370)
layers += [sc_big(*o, (103, 556), G5A_B, G5A_R, 11), sc_big(*o, (696, 1148), G5B_B, G5B_R, 5)]
layers += heads(*o, [("SCOUT-O3 2005", 328, 36), ("LMDz-INCA", 922, 36)], 6.0)
layers += notes(*o, [("November 16-30", 330, 68, K), ("127-132E", 330, 90, K), ("10-20S", 330, 112, K), ("8669 points", 338, 134, B), ("6963 points", 338, 156, R), ("15632 points", 330, 178, K),
                     ("130E", 925, 90, K), ("12S", 925, 112, K), ("677 points", 940, 134, B), ("930 points", 940, 156, R), ("1607 points", 932, 178, K), ("nudged simulation", 922, 200, K)], 5.5)
o = (850, 370)
layers += [sc_big(*o, (97, 550), G6A_B, G6A_R, 5), sc_big(*o, (690, 1143), G6B_B, G6B_R, 4)]
layers += heads(*o, [("AMMA 2006", 320, 36), ("LMDz-INCA", 915, 36)], 6.0)
layers += notes(*o, [("November  7- 8", 324, 68, K), ("0- 8W", 332, 90, K), ("9-14N", 332, 112, K), ("978 points", 340, 134, B), ("1031 points", 333, 156, R), ("2009 points", 333, 178, K),
                     ("2W", 925, 90, K), ("11N", 917, 112, K), ("96 points", 945, 134, B), ("137 points", 935, 156, R), ("233 points", 935, 178, K), ("nudged simulation", 917, 200, K)], 5.5)

chart = alt.layer(*layers).resolve_scale(x="independent", y="independent").resolve_axis(x="independent", y="independent").properties(
    width=W, height=H, background=BG, padding=0, autosize=alt.AutoSizeParams(type="none")
).configure_view(stroke=None)

chart.save("out.html", embed_options={"renderer": "svg", "actions": False})
